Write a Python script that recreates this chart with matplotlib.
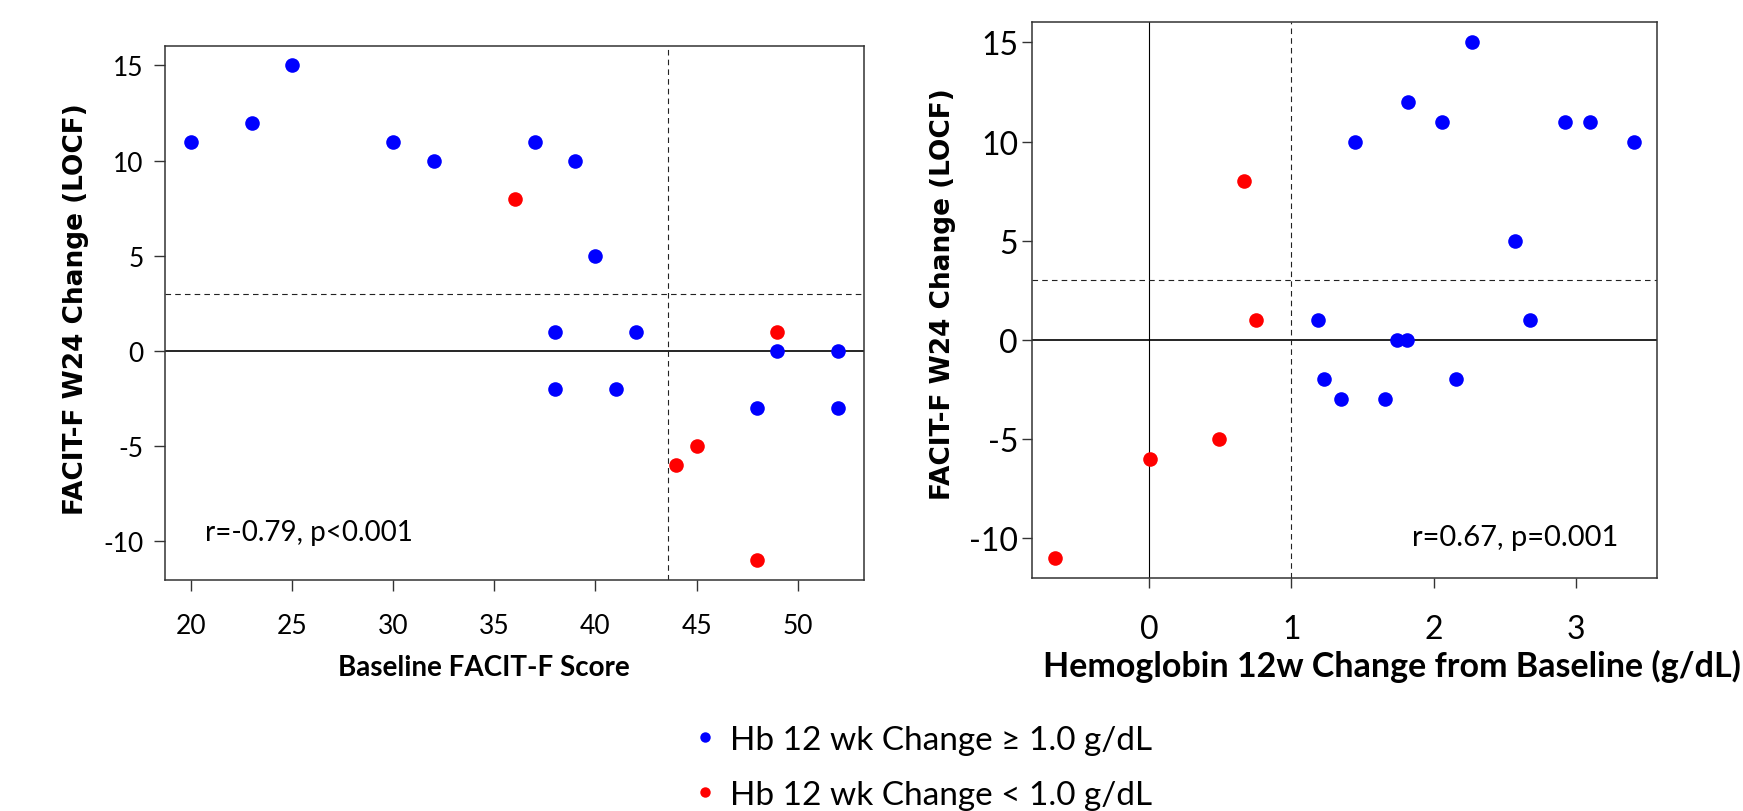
import matplotlib
matplotlib.use("Agg")
import matplotlib.pyplot as plt
from matplotlib.lines import Line2D

plt.rcParams['lines.scale_dashes'] = False
plt.rcParams['axes.unicode_minus'] = False

# ---------------- data ----------------
# Left panel: Baseline FACIT-F score vs FACIT-F W24 change
base_blue = [20, 23, 25, 30, 32, 37, 39, 40, 38, 42, 38, 41, 49, 52, 48, 52]
chg_blue_l = [11, 12, 15, 11, 10, 11, 10, 5, 1, 1, -2, -2, 0, 0, -3, -3]
base_red = [36, 49, 44, 45, 48]
chg_red_l = [8, 1, -6, -5, -11]

# Right panel: Hemoglobin 12w change vs FACIT-F W24 change
hb_blue = [1.19, 1.23, 1.35, 1.45, 1.66, 1.74, 1.81, 1.82, 2.06, 2.16, 2.27,
           2.57, 2.68, 2.92, 3.10, 3.41]
chg_blue_r = [1, -2, -3, 10, -3, 0, 0, 12, 11, -2, 15, 5, 1, 11, 11, 10]
hb_red = [-0.66, 0.01, 0.49, 0.67, 0.75]
chg_red_r = [-11, -6, -5, 8, 1]

left_vline = 43.6
right_vline = 1.0
hline_dash = 3
left_xticks = [20, 25, 30, 35, 40, 45, 50]
right_xticks = [0, 1, 2, 3]
yticks = [-10, -5, 0, 5, 10, 15]

left_text = "r=-0.79, p<0.001"
right_text = "r=0.67, p=0.001"
ylab = "FACIT-F W24 Change (LOCF)"
left_xlab = "Baseline FACIT-F Score"
right_xlab = "Hemoglobin 12w Change from Baseline (g/dL)"
legend_labels = ["Hb 12 wk Change \u2265 1.0 g/dL", "Hb 12 wk Change < 1.0 g/dL"]

BLUE = "#0000FF"
RED = "#FF0000"
FONT = ['Lato', 'DejaVu Sans']

W, H = 1743, 812
fig = plt.figure(figsize=(W / 100, H / 100), dpi=100)


def rlim(vals):
    lo, hi = min(vals), max(vals)
    d = (hi - lo) * 0.04
    return lo - d, hi + d


def fx(px):
    return px / W


def fy(py):
    return 1 - py / H


axL = fig.add_axes([fx(165), fy(581), fx(864 - 165), (581 - 46.7) / H])
axR = fig.add_axes([fx(1032), fy(579.3), fx(1657.4 - 1032), (579.3 - 22.8) / H])

ms = 10.5
DASH = (0, (4, 3))
for ax in (axL, axR):
    for s in ax.spines.values():
        s.set_color('#333333')
        s.set_linewidth(1.1)

# left panel
axL.axhline(0, color='black', lw=1.2, zorder=1)
axL.axhline(hline_dash, color='#222222', lw=0.8, ls=DASH, zorder=1)
axL.axvline(left_vline, color='#222222', lw=0.8, ls=DASH, zorder=1)
axL.plot(base_blue, chg_blue_l, 'o', color=BLUE, ms=ms, mec='none', zorder=3)
axL.plot(base_red, chg_red_l, 'o', color=RED, ms=ms, mec='none', zorder=3)
axL.set_xlim(rlim(base_blue + base_red))
axL.set_ylim(rlim(chg_blue_l + chg_red_l))
axL.set_xticks(left_xticks)
axL.set_yticks(yticks)
axL.tick_params(axis='both', direction='out', length=8, width=1, color='#333333',
                labelsize=19)
axL.tick_params(axis='y', pad=7.5)
axL.tick_params(axis='x', pad=16)
for lab in axL.get_xticklabels() + axL.get_yticklabels():
    lab.set_family(FONT)

# right panel
axR.axhline(0, color='black', lw=1.2, zorder=1)
axR.axvline(0, color='black', lw=0.8, zorder=1)
axR.axhline(hline_dash, color='#222222', lw=0.8, ls=DASH, zorder=1)
axR.axvline(right_vline, color='#222222', lw=0.8, ls=DASH, zorder=1)
axR.plot(hb_blue, chg_blue_r, 'o', color=BLUE, ms=ms, mec='none', zorder=3)
axR.plot(hb_red, chg_red_r, 'o', color=RED, ms=ms, mec='none', zorder=3)
axR.set_xlim(rlim(hb_blue + hb_red))
axR.set_ylim(rlim(chg_blue_r + chg_red_r))
axR.set_xticks(right_xticks)
axR.set_yticks(yticks)
axR.tick_params(axis='both', direction='out', length=7.5, width=1, color='#333333',
                labelsize=23)
axR.tick_params(axis='y', pad=2.5)
axR.tick_params(axis='x', pad=18)
for lab in axR.get_xticklabels() + axR.get_yticklabels():
    lab.set_family(FONT)

# annotations
fig.text(fx(205), fy(533), left_text, fontsize=20, family=FONT, ha='left', va='center')
fig.text(fx(1412), fy(538), right_text, fontsize=21, family=FONT, ha='left', va='center')

# axis labels
fig.text(fx(76), fy(309), ylab, rotation=90, fontsize=19, fontweight='bold',
         family='DejaVu Sans', ha='center', va='center')
fig.text(fx(943), fy(294), ylab, rotation=90, fontsize=19, fontweight='bold',
         family='DejaVu Sans', ha='center', va='center')
fig.text(fx(338), fy(668), left_xlab, fontsize=20, fontweight='bold', family=FONT,
         ha='left', va='center')
fig.text(fx(1741), fy(666), right_xlab, fontsize=24.5, fontweight='bold', family=FONT,
         ha='right', va='center')

# legend
handles = [Line2D([], [], ls='none', marker='o', color=BLUE, mec='none', ms=7.5),
           Line2D([], [], ls='none', marker='o', color=RED, mec='none', ms=7.5)]
fig.legend(handles, legend_labels, loc='upper left',
           bbox_to_anchor=(fx(695), fy(726)), frameon=False, borderpad=0,
           borderaxespad=0, handlelength=0.6, handletextpad=0.45, labelspacing=0.75,
           prop={'family': FONT, 'size': 24})

fig.savefig("out.png", dpi=100)
